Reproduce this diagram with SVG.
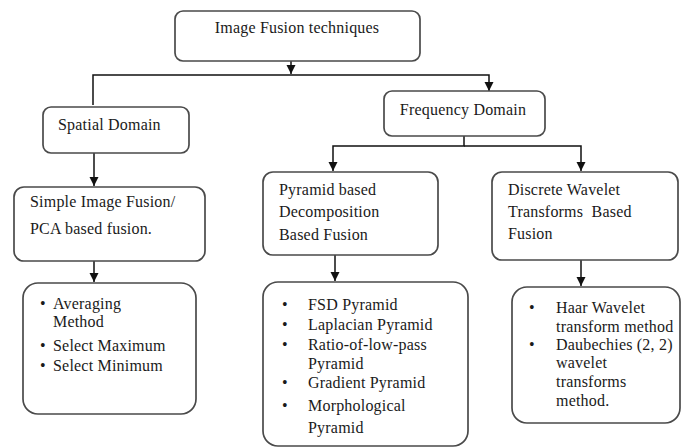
<svg xmlns="http://www.w3.org/2000/svg" width="681" height="448" viewBox="0 0 681 448">
<defs>
<style>
.box{fill:#fff;stroke:#4a4a4a;stroke-width:1.7}
.ln{fill:none;stroke:#111;stroke-width:1.5}
</style>
<marker id="ah" markerWidth="10" markerHeight="10" refX="9" refY="5" orient="auto" markerUnits="userSpaceOnUse">
<path d="M0,0.5 L9,5 L0,9.5 Z" fill="#111"/>
</marker>
</defs>
<rect width="681" height="448" fill="#fff"/>
<g id="connectors">
<path class="ln" d="M291,61 V74" marker-end="url(#ah)"/>
<path class="ln" d="M93,105 V75 H489 V91" marker-end="url(#ah)"/>
<path class="ln" d="M94,153 V186" marker-end="url(#ah)"/>
<path class="ln" d="M94,261 V282" marker-end="url(#ah)"/>
<path class="ln" d="M464,136 V146 H333 V171" marker-end="url(#ah)"/>
<path class="ln" d="M464,146 H581 V171" marker-end="url(#ah)"/>
<path class="ln" d="M335,255 V281" marker-end="url(#ah)"/>
<path class="ln" d="M581,260 V286" marker-end="url(#ah)"/>
</g>
<g font-family="Liberation Serif, Times New Roman, serif" font-size="16" letter-spacing="0.2" fill="#1a1a1a">
<g id="n-root">
<rect class="box" x="175" y="11" width="245" height="50" rx="8"/>
<text x="297" y="33" text-anchor="middle">Image Fusion techniques</text>
</g>
<g id="n-spatial">
<rect class="box" x="43" y="107" width="146" height="46" rx="8"/>
<text x="58" y="130">Spatial Domain</text>
</g>
<g id="n-frequency">
<rect class="box" x="384" y="91" width="161" height="45" rx="8"/>
<text x="463" y="115" text-anchor="middle">Frequency Domain</text>
</g>
<g id="n-simple">
<rect class="box" x="14" y="187" width="191" height="74" rx="10"/>
<text x="30" y="207">Simple Image Fusion/</text>
<text x="30" y="234">PCA based fusion.</text>
</g>
<g id="n-pyramid">
<rect class="box" x="263" y="172" width="175" height="83" rx="10"/>
<text x="279" y="195">Pyramid based</text>
<text x="279" y="217">Decomposition</text>
<text x="279" y="240">Based Fusion</text>
</g>
<g id="n-dwt">
<rect class="box" x="492" y="172" width="186" height="88" rx="10"/>
<text x="508" y="195">Discrete Wavelet</text>
<text x="508" y="217" xml:space="preserve">Transforms  Based</text>
<text x="508" y="239">Fusion</text>
</g>
<g id="n-spatial-list">
<rect class="box" x="23" y="283" width="173" height="131" rx="15"/>
<text x="40" y="309">•</text><text x="53" y="309">Averaging</text>
<text x="53" y="327">Method</text>
<text x="40" y="351">•</text><text x="53" y="351">Select Maximum</text>
<text x="40" y="371">•</text><text x="53" y="371">Select Minimum</text>
</g>
<g id="n-pyramid-list">
<rect class="box" x="263" y="282" width="205" height="164" rx="15"/>
<text x="282" y="310">•</text><text x="308" y="310">FSD Pyramid</text>
<text x="282" y="330">•</text><text x="308" y="330">Laplacian Pyramid</text>
<text x="282" y="350">•</text><text x="308" y="350">Ratio-of-low-pass</text>
<text x="308" y="369">Pyramid</text>
<text x="282" y="388">•</text><text x="308" y="388">Gradient Pyramid</text>
<text x="282" y="411">•</text><text x="308" y="411">Morphological</text>
<text x="308" y="433">Pyramid</text>
</g>
<g id="n-dwt-list">
<rect class="box" x="512" y="287" width="168" height="136" rx="15"/>
<text x="529" y="313">•</text><text x="556" y="313">Haar Wavelet</text>
<text x="556" y="332">transform method</text>
<text x="529" y="350">•</text><text x="556" y="350">Daubechies (2, 2)</text>
<text x="556" y="368">wavelet</text>
<text x="556" y="387">transforms</text>
<text x="556" y="406">method.</text>
</g>
</g>
</svg>
